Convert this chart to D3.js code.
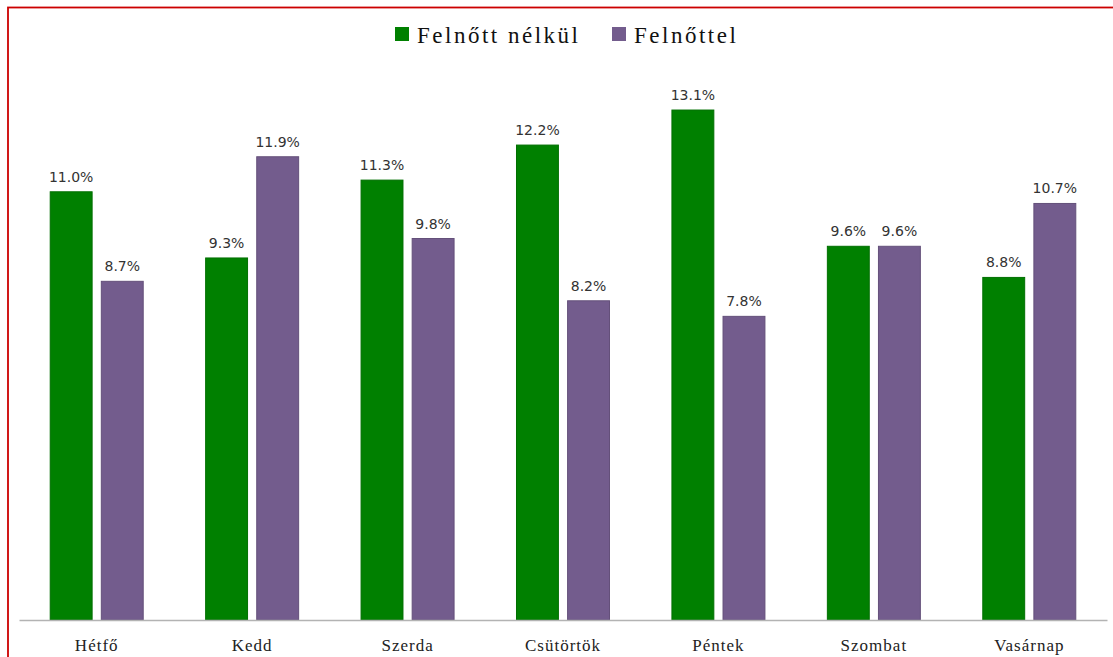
<!DOCTYPE html>
<html>
<head>
<meta charset="utf-8">
<script src="https://cdn.jsdelivr.net/npm/d3@7"></script>
<style>
    body { margin: 0; background: #fff; }
    svg { display: block; }
</style>
</head>
<body>
<div id="chart"></div>
<script>
// Chart data
const days = ['Hétfő', 'Kedd', 'Szerda', 'Csütörtök', 'Péntek', 'Szombat', 'Vasárnap'];
const withoutAdult = [11.0, 9.3, 11.3, 12.2, 13.1, 9.6, 8.8];
const withAdult = [8.7, 11.9, 9.8, 8.2, 7.8, 9.6, 10.7];
const seriesNames = ['Felnőtt nélkül', 'Felnőttel'];
const colors = ['#008000', '#735c8d'];

const width = 1113, height = 657;
const margin = { top: 75, right: 6, bottom: 37, left: 19 };
const innerW = width - margin.left - margin.right;
const innerH = height - margin.top - margin.bottom;

const svg = d3.select('#chart').append('svg')
    .attr('width', width)
    .attr('height', height);

// red frame
svg.append('rect')
    .attr('x', 8).attr('y', 7.5)
    .attr('width', width + 10).attr('height', height + 10)
    .attr('fill', 'none')
    .attr('stroke', '#cc0000')
    .attr('stroke-width', 1.8);

const g = svg.append('g')
    .attr('transform', `translate(${margin.left},${margin.top})`);

const x = d3.scaleBand()
    .domain(days)
    .range([0, innerW]);

const sub = d3.scaleBand()
    .domain([0, 1])
    .range([x.bandwidth() / 2 - 46.5, x.bandwidth() / 2 + 46.5])
    .paddingInner(0.18);

const y = d3.scaleLinear()
    .domain([0, 14])
    .range([innerH, 0]);

const rows = days.map((d, i) => ({ day: d, values: [withoutAdult[i], withAdult[i]] }));

const groups = g.selectAll('.grp')
    .data(rows)
    .enter().append('g')
    .attr('transform', d => `translate(${x(d.day)},0)`);

groups.selectAll('rect')
    .data(d => d.values.map((v, k) => ({ k, v })))
    .enter().append('rect')
    .attr('x', d => sub(d.k))
    .attr('width', sub.bandwidth())
    .attr('y', d => y(d.v))
    .attr('height', d => innerH - y(d.v))
    .attr('fill', d => colors[d.k])
    .attr('stroke', d => d3.color(colors[d.k]).darker(0.4))
    .attr('stroke-width', 1);

groups.selectAll('text')
    .data(d => d.values.map((v, k) => ({ k, v })))
    .enter().append('text')
    .attr('x', d => sub(d.k) + sub.bandwidth() / 2)
    .attr('y', d => y(d.v) - 10)
    .attr('text-anchor', 'middle')
    .style('font-family', '"DejaVu Sans", Verdana, sans-serif')
    .style('font-size', '14px')
    .style('fill', '#333')
    .text(d => d.v.toFixed(1) + '%');

// x axis
const xAxis = g.append('g')
    .attr('transform', `translate(0,${innerH})`)
    .call(d3.axisBottom(x).tickSize(0).tickPadding(19));
xAxis.select('.domain').attr('stroke', '#b3b3b3').attr('stroke-width', 1.5);
xAxis.selectAll('text')
    .style('font-family', '"Liberation Serif", serif')
    .style('font-size', '17px')
    .style('letter-spacing', '1px')
    .style('fill', '#222');

// legend
const legendX = [395, 612];
const legend = svg.selectAll('.leg')
    .data(seriesNames)
    .enter().append('g')
    .attr('transform', (d, i) => `translate(${legendX[i]},27)`);
legend.append('rect')
    .attr('width', 14).attr('height', 14)
    .attr('fill', (d, i) => colors[i]);
legend.append('text')
    .attr('x', 22).attr('y', 15.5)
    .style('font-family', '"Liberation Serif", serif')
    .style('font-size', '23px')
    .style('letter-spacing', '2.5px')
    .style('fill', '#111')
    .text(d => d);
</script>
</body>
</html>
